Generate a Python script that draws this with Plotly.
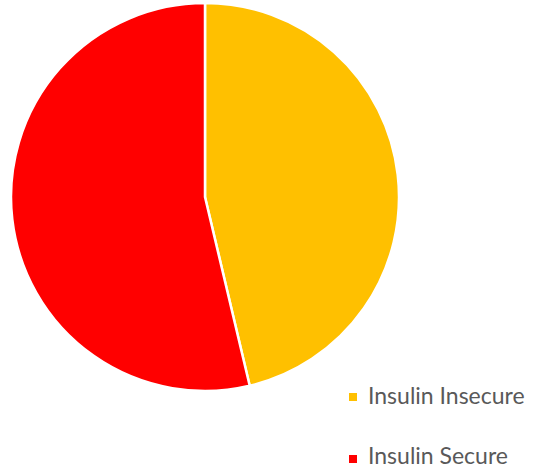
import plotly.graph_objects as go

labels = ["Insulin Insecure", "Insulin Secure"]
shares = [46.3, 53.7]
colors = ["#FFC000", "#FF0000"]

W, H = 534, 469

fig = go.Figure()

fig.add_trace(go.Pie(
    labels=labels,
    values=shares,
    sort=False,
    direction="clockwise",
    rotation=0,
    marker=dict(colors=colors, line=dict(color="white", width=2.5)),
    textinfo="none",
    hoverinfo="label+percent",
    showlegend=False,
    domain=dict(x=[11 / W, 399 / W], y=[1 - 391 / H, 1 - 3 / H]),
))

# Hand-placed legend: square swatch + label, stacked with a wide gap
swatch_rows = [397, 459]
label_rows = [395, 455]
for name, col, srow, lrow in zip(labels, colors, swatch_rows, label_rows):
    fig.add_shape(
        type="rect", xref="paper", yref="paper",
        x0=349 / W, x1=357 / W,
        y0=1 - (srow + 4) / H, y1=1 - (srow - 4) / H,
        fillcolor=col, line=dict(width=0),
    )
    fig.add_annotation(
        x=366 / W, y=1 - lrow / H, xref="paper", yref="paper",
        xanchor="left", yanchor="middle", showarrow=False,
        text=name,
        font=dict(family="Lato", size=23, color="#595959"),
    )

fig.update_layout(
    width=W, height=H,
    margin=dict(l=0, r=0, t=0, b=0),
    paper_bgcolor="white", plot_bgcolor="white",
)

fig.write_html("out.html")
